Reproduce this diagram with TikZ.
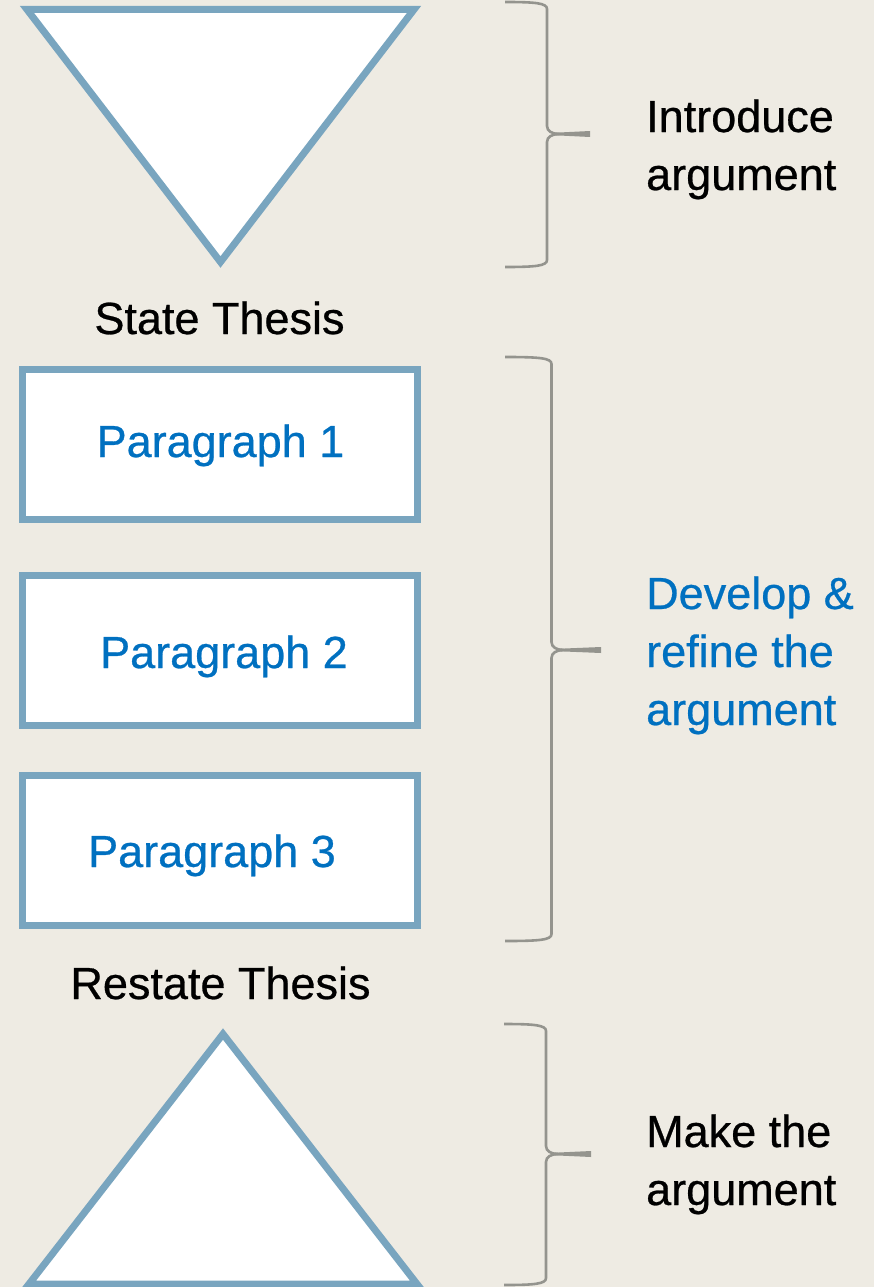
\documentclass[tikz,border=0pt]{standalone}
\usepackage{fontspec}
\setmainfont[FakeBold=0.6]{Liberation Sans}
\definecolor{bg}{RGB}{238,235,227}
\definecolor{shapeblue}{RGB}{121,165,191}
\definecolor{textblue}{RGB}{0,112,192}
\definecolor{bracegray}{RGB}{148,148,142}
\tikzset{
  shapeline/.style={draw=shapeblue, line width=7pt, fill=white, line join=miter},
  parabox/.style={shapeline, rectangle, minimum width=395pt, minimum height=150pt, inner sep=0pt},
  bigtext/.style={font=\fontsize{45}{58}\selectfont, inner sep=0pt},
  bracestyle/.style={draw=bracegray, line width=2.6pt},
}
% brace: #1 end x, #2 vertical x, #3 tip x, #4 top y, #5 mid y, #6 bottom y
\newcommand{\mybrace}[6]{%
  \draw[bracestyle] (#1,#4) .. controls ({#2-12},#4) and (#2,{#4+1}) .. (#2,{#4+7})
     -- (#2,{#5-8}) .. controls (#2,{#5-3}) and ({#2+5},#5) .. ({#2+12},#5);
  \draw[bracestyle] ({#2+12},#5) .. controls ({#2+5},#5) and (#2,{#5+3}) .. (#2,{#5+8})
     -- (#2,{#6-7}) .. controls (#2,{#6-1}) and ({#2-12},#6) .. (#1,#6);
  \fill[bracegray] ({#2+8},{#5-1.3}) -- (#3,{#5-3}) -- (#3,{#5+3}) -- ({#2+8},{#5+1.3}) -- cycle;
}
\begin{document}
\begin{tikzpicture}[x=1pt,y=-1pt]
\useasboundingbox (0,0) rectangle (874,1287);
\fill[bg] (0,0) rectangle (874,1287);

% top inverted triangle
\coordinate (t1) at (27,9.5);
\coordinate (t2) at (414,9.5);
\coordinate (t3) at (220.5,262);
\draw[shapeline] (t1) -- (t2) -- (t3) -- cycle;

\node[bigtext, anchor=base] (state) at (219.5,334) {State Thesis};

% paragraph boxes
\node[parabox] (box1) at (220,444.5) {};
\node[parabox] (box2) at (220,650.5) {};
\node[parabox] (box3) at (220,850.5) {};
\node[bigtext, text=textblue, anchor=base] (p1) at (220.5,457) {Paragraph 1};
\node[bigtext, text=textblue, anchor=base] (p2) at (224,668) {Paragraph 2};
\node[bigtext, text=textblue, anchor=base] (p3) at (212,867) {Paragraph 3};

\node[bigtext, anchor=base] (restate) at (220.5,999) {Restate Thesis};

% bottom triangle
\coordinate (b1) at (223,1034);
\coordinate (b2) at (417,1284);
\coordinate (b3) at (29,1284);
\draw[shapeline] (b1) -- (b2) -- (b3) -- cycle;

% braces
\mybrace{505}{547}{590}{2}{134}{267}
\mybrace{505}{551.5}{601}{357}{650}{941}
\mybrace{504}{546}{591}{1024}{1154}{1285}

% right labels
\node[bigtext, anchor=base west] (intro) at (646,132)
  {\vtop{\hbox{Introduce}\hbox{argument}}};
\node[bigtext, text=textblue, anchor=base west] (develop) at (646,609)
  {\vtop{\hbox{Develop \&}\hbox{refine the}\hbox{argument}}};
\node[bigtext, anchor=base west] (make) at (646,1147)
  {\vtop{\hbox{Make the}\hbox{argument}}};
\end{tikzpicture}
\end{document}
